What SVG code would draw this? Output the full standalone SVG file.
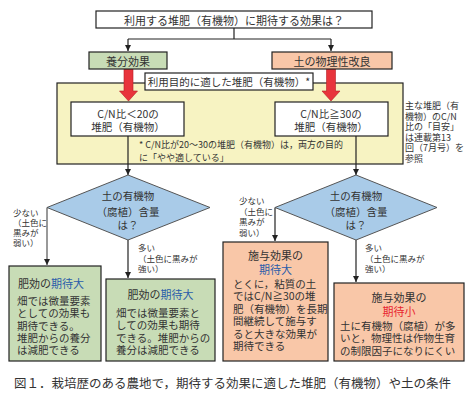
<svg xmlns="http://www.w3.org/2000/svg" width="472" height="401" viewBox="0 0 472 401">
<defs>
<marker id="ah" viewBox="0 0 8 8" refX="8" refY="4" markerWidth="6" markerHeight="6" orient="auto" markerUnits="userSpaceOnUse">
<path d="M0 0 L8 4 L0 8 Z" fill="#222"/>
</marker>
<style>
text{font-family:"Noto Sans CJK JP","Noto Sans",sans-serif;fill:#333;dominant-baseline:central}
.box{stroke:#222;stroke-width:1.2}
.w{fill:#fff}
.g{fill:#c8dcb6}
.o{fill:#f9c7a8}
.y{fill:#f7f3c2}
.d{fill:#a9cbe8;stroke:#555;stroke-width:1}
.c{text-anchor:middle}
.f11{font-size:11px}
.f10{font-size:10.5px}
.f9{font-size:9px}
.f8{font-size:8.5px}
.conn path{fill:none;stroke:#222;stroke-width:1.2}
.red{fill:#e8343c;stroke:#b52026;stroke-width:0.6}
.blue{fill:#2a5caa}
.redt{fill:#e8252f}
</style>
</defs>
<rect width="472" height="401" fill="#fff"/>

<g id="purpose-frame">
<rect class="box y" x="57" y="83" width="346" height="81"/>
<text class="f9" x="139" y="144">* C/N比が20～30の堆肥（有機物）は，両方の目的<tspan x="139" dy="12.5">に「やや適している」</tspan></text>
</g>

<g id="connectors" class="conn">
<path d="M234 28 V39 M128 39 H331"/>
<path d="M128 39 V51" marker-end="url(#ah)"/>
<path d="M331 39 V51" marker-end="url(#ah)"/>
<path d="M128 136 V175" marker-end="url(#ah)"/>
<path d="M356 136 V175" marker-end="url(#ah)"/>
<path d="M47 207.5 V265" marker-end="url(#ah)" style="stroke:#555"/>
<path d="M128 240 V278" marker-end="url(#ah)"/>
<path d="M275 207.5 V241" marker-end="url(#ah)"/>
<path d="M356 240 V282" marker-end="url(#ah)"/>
<polygon class="red" points="124,69 133,69 133,91 137.5,91 128.5,101 119.5,91 124,91"/>
<polygon class="red" points="326.5,69 335.5,69 335.5,91 340,91 331,101 322,91 326.5,91"/>
</g>

<g id="q-top">
<rect class="box w" x="96" y="11" width="276" height="17"/>
<text class="f11 c" x="234" y="19.5">利用する堆肥（有機物）に期待する効果は？</text>
</g>

<g id="nutrient">
<rect class="box g" x="89" y="52" width="78" height="17"/>
<text class="f11 c" x="128" y="60.5">養分効果</text>
</g>

<g id="physical">
<rect class="box o" x="272" y="52" width="120" height="17"/>
<text class="f11 c" x="332" y="60.5">土の物理性改良</text>
</g>

<g id="label-suited">
<rect class="box w" x="145" y="73" width="168" height="17"/>
<text class="f10 c" x="229" y="81.5">利用目的に適した堆肥（有機物）*</text>
</g>

<g id="cn-low">
<rect class="box w" x="71" y="102" width="113" height="34"/>
<text class="f10 c" x="128" y="113">C/N比＜20の<tspan x="128" dy="13">堆肥（有機物）</tspan></text>
</g>

<g id="cn-high">
<rect class="box w" x="275" y="102" width="113" height="34"/>
<text class="f10 c" x="331" y="113">C/N比≧30の<tspan x="331" dy="13">堆肥（有機物）</tspan></text>
</g>

<g id="side-note">
<text class="f9" x="405" y="105">主な堆肥（有<tspan x="405" dy="10.5">機物）のC/N</tspan><tspan x="405" dy="10.5">比の「目安」</tspan><tspan x="405" dy="10.5">は連載第13</tspan><tspan x="405" dy="10.5">回（7月号）を</tspan><tspan x="405" dy="10.5">参照</tspan></text>
</g>

<g id="diamond-left">
<polygon class="d" points="128,175 210,207.5 128,240 47,207.5"/>
<text class="f10 c" x="128" y="195">土の有機物<tspan x="128" dy="16">（腐植）含量</tspan><tspan x="128" dy="13">は？</tspan></text>
</g>

<g id="diamond-right">
<polygon class="d" points="356,175 437,207.5 356,240 275,207.5"/>
<text class="f10 c" x="356" y="195">土の有機物<tspan x="356" dy="16">（腐植）含量</tspan><tspan x="356" dy="13">は？</tspan></text>
</g>

<g id="labels-left">
<text class="f8" x="13" y="212">少ない<tspan x="13" dy="10">（土色に</tspan><tspan x="13" dy="10">黒みが</tspan><tspan x="13" dy="10">弱い）</tspan></text>
<text class="f8" x="138" y="247">多い<tspan x="138" dy="10.5">（土色に黒みが</tspan><tspan x="138" dy="10.5">強い）</tspan></text>
</g>

<g id="labels-right">
<text class="f8" x="239" y="200">少ない<tspan x="239" dy="10.5">（土色に</tspan><tspan x="239" dy="10.5">黒みが</tspan><tspan x="239" dy="10.5">弱い）</tspan></text>
<text class="f8" x="365" y="247">多い<tspan x="365" dy="10.5">（土色に黒みが</tspan><tspan x="365" dy="10.5">強い）</tspan></text>
</g>

<g id="result-1">
<rect class="box g" x="9" y="266" width="92" height="95"/>
<text class="f11" x="18" y="283">肥効の<tspan class="blue">期待大</tspan></text>
<text class="f10" x="17" y="300">畑では微量要素<tspan x="17" dy="12.3">としての効果も</tspan><tspan x="17" dy="12.3">期待できる。</tspan><tspan x="17" dy="12.3">堆肥からの養分</tspan><tspan x="17" dy="12.3">は減肥できる</tspan></text>
</g>

<g id="result-2">
<rect class="box g" x="106" y="279" width="109" height="82"/>
<text class="f11 c" x="160.5" y="294">肥効の<tspan class="blue">期待大</tspan></text>
<text class="f10" x="116" y="312">畑では微量要素と<tspan x="116" dy="12.3">しての効果も期待</tspan><tspan x="116" dy="12.3">できる。堆肥からの</tspan><tspan x="116" dy="12.3">養分は減肥できる</tspan></text>
</g>

<g id="result-3">
<rect class="box o" x="223" y="242" width="105" height="119"/>
<text class="f11 c" x="275.5" y="255">施与効果の<tspan class="blue" x="275.5" dy="14">期待大</tspan></text>
<text class="f10" x="233" y="283">とくに，粘質の土<tspan x="233" dy="12.4">ではC/N≧30の堆</tspan><tspan x="233" dy="12.4">肥（有機物）を長期</tspan><tspan x="233" dy="12.4">間継続して施与す</tspan><tspan x="233" dy="12.4">ると大きな効果が</tspan><tspan x="233" dy="12.4">期待できる</tspan></text>
</g>

<g id="result-4">
<rect class="box o" x="334" y="283" width="130" height="78"/>
<text class="f11 c" x="399" y="297">施与効果の<tspan class="redt" x="399" dy="14">期待小</tspan></text>
<text class="f10" x="340" y="325">土に有機物（腐植）が多<tspan x="340" dy="12.3">いと，物理性は作物生育</tspan><tspan x="340" dy="12.3">の制限因子になりにくい</tspan></text>
</g>

<g id="caption">
<text x="14" y="382" style="font-size:12.5px">図１．栽培歴のある農地で，期待する効果に適した堆肥（有機物）や土の条件</text>
</g>
</svg>
